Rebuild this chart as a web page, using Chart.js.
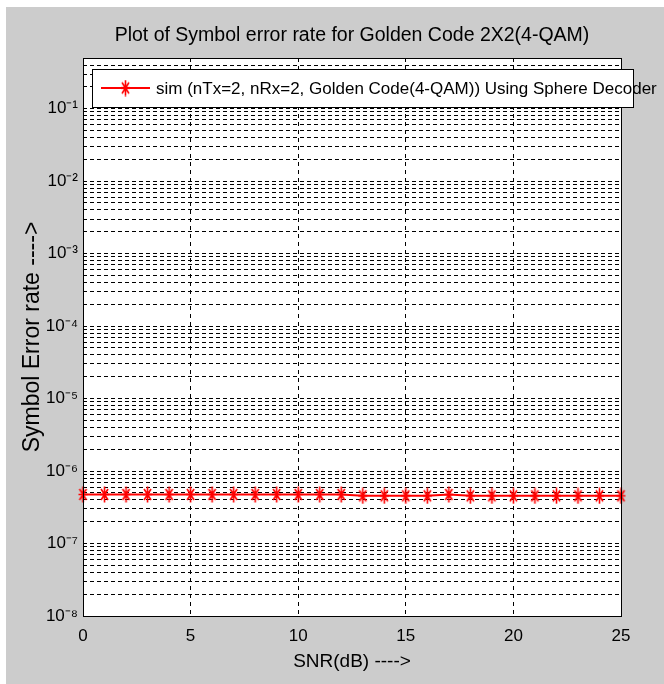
<!DOCTYPE html>
<html>
<head>
<meta charset="utf-8">
<script src="https://cdn.jsdelivr.net/npm/chart.js@4.4.1/dist/chart.umd.min.js"></script>
<style>
  html, body { margin: 0; padding: 0; background: #ffffff; }
  canvas { display: block; }
</style>
</head>
<body>
<canvas id="c" width="664" height="684"></canvas>
<script>
// ---------- data ----------
const snrDb = [0,1,2,3,4,5,6,7,8,9,10,11,12,13,14,15,16,17,18,19,20,21,22,23,24,25];
const serGolden = [4.75e-7,4.75e-7,4.75e-7,4.75e-7,4.75e-7,4.75e-7,4.75e-7,4.75e-7,4.75e-7,4.75e-7,
                   4.75e-7,4.75e-7,4.75e-7,4.55e-7,4.55e-7,4.55e-7,4.55e-7,4.75e-7,4.55e-7,4.55e-7,
                   4.55e-7,4.55e-7,4.55e-7,4.55e-7,4.55e-7,4.55e-7];
const xTickValues = [0,5,10,15,20,25];
const xTickLabels = ['0','5','10','15','20','25'];
const yDecadeValues = [1e-8,1e-7,1e-6,1e-5,1e-4,1e-3,1e-2,1e-1];
const yDecadeLabels = ['10⁻⁸','10⁻⁷','10⁻⁶','10⁻⁵','10⁻⁴','10⁻³','10⁻²','10⁻¹'];
const yMin = 1e-8, yMax = 0.5;
const titleText = 'Plot of Symbol error rate for Golden Code 2X2(4-QAM)';
const xAxisText = 'SNR(dB) ---->';
const yAxisText = 'Symbol Error rate ---->';
const seriesLabel = 'sim (nTx=2, nRx=2, Golden Code(4-QAM)) Using Sphere Decoder';

const FONT = "'Liberation Sans', Arial, Helvetica, sans-serif";
const RED = '#ff0000';
const FIG_BG = '#cccccc';

// asterisk marker
function makeStar() {
  const c = document.createElement('canvas');
  c.width = 11; c.height = 17;
  const g = c.getContext('2d');
  g.strokeStyle = RED; g.lineWidth = 1.6; g.lineCap = 'butt';
  g.beginPath();
  g.moveTo(5.5, 0.5); g.lineTo(5.5, 16.5);
  g.moveTo(1, 8.5); g.lineTo(10, 8.5);
  g.moveTo(2, 3); g.lineTo(9, 14);
  g.moveTo(9, 3); g.lineTo(2, 14);
  g.stroke();
  return c;
}
const starImg = makeStar();

// grid values for the log axis (1..9 x each decade)
function logGridValues() {
  const out = [];
  for (let e = -8; e <= -1; e++) {
    for (let m = 1; m <= 9; m++) out.push(m * Math.pow(10, e));
  }
  for (let m = 1; m <= 5; m++) out.push(m * 0.1);
  return out.filter((v, i, a) => a.indexOf(v) === i && v >= yMin && v <= yMax * 1.0000001);
}

const figurePlugin = {
  id: 'figure',
  beforeDraw(chart) {
    const ctx = chart.ctx;
    ctx.save();
    ctx.fillStyle = '#ffffff';
    ctx.fillRect(0, 0, chart.width, chart.height);
    ctx.fillStyle = FIG_BG;
    ctx.fillRect(6, 7, chart.width - 6, chart.height - 7);
    const a = chart.chartArea;
    ctx.fillStyle = '#ffffff';
    ctx.fillRect(a.left, a.top, a.right - a.left, a.bottom - a.top);
    ctx.restore();
  },
  afterDatasetsDraw(chart) {
    const ctx = chart.ctx;
    const a = chart.chartArea;
    ctx.save();
    ctx.strokeStyle = '#000000';
    ctx.lineWidth = 1;
    ctx.setLineDash([]);
    ctx.strokeRect(Math.round(a.left) + 0.5, Math.round(a.top) + 0.5,
                   Math.round(a.right - a.left), Math.round(a.bottom - a.top));
    ctx.restore();
  },
  afterDraw(chart) {
    // legend box (MATLAB style, overlapping the axes)
    const ctx = chart.ctx;
    const ds = chart.data.datasets[0];
    const bx = 92, by = 69, bw = 541, bh = 38;
    ctx.save();
    ctx.fillStyle = '#ffffff';
    ctx.fillRect(bx, by, bw, bh);
    ctx.strokeStyle = '#000000';
    ctx.lineWidth = 1;
    ctx.strokeRect(bx + 0.5, by + 0.5, bw, bh);
    const cy = by + bh / 2;
    ctx.strokeStyle = ds.borderColor;
    ctx.lineWidth = ds.borderWidth;
    ctx.beginPath();
    ctx.moveTo(101, cy); ctx.lineTo(150, cy);
    ctx.stroke();
    ctx.drawImage(starImg, 125.5 - starImg.width / 2, cy - starImg.height / 2);
    ctx.fillStyle = '#000000';
    ctx.font = '17px ' + FONT;
    ctx.textBaseline = 'middle';
    ctx.textAlign = 'left';
    ctx.fillText(ds.label, 156, cy + 1);
    ctx.restore();
  }
};

const chart = new Chart(document.getElementById('c'), {
  type: 'line',
  data: {
    datasets: [{
      label: seriesLabel,
      data: snrDb.map((x, i) => ({ x: x, y: serGolden[i] })),
      borderColor: RED,
      backgroundColor: RED,
      borderWidth: 2,
      pointStyle: starImg,
      pointRadius: 6,
      tension: 0,
      fill: false,
      clip: false
    }]
  },
  options: {
    responsive: false,
    animation: false,
    devicePixelRatio: 1,
    events: [],
    layout: { padding: { left: 0, right: 43, top: 0, bottom: 0 } },
    plugins: {
      legend: { display: false },
      tooltip: { enabled: false },
      title: {
        display: true,
        fullSize: false,
        text: titleText,
        color: '#000000',
        font: { family: FONT, size: 19.5, weight: 'normal', lineHeight: 1.2 },
        padding: { top: 24.3, bottom: 10.3 }
      }
    },
    scales: {
      x: {
        type: 'linear',
        min: 0, max: 25,
        afterBuildTicks(scale) { scale.ticks = xTickValues.map(v => ({ value: v })); },
        afterFit(scale) { scale.height = 68; },
        ticks: {
          autoSkip: false,
          maxRotation: 0,
          padding: 10,
          color: '#000000',
          font: { family: FONT, size: 17 },
          callback(v) { const i = xTickValues.indexOf(v); return i >= 0 ? xTickLabels[i] : ''; }
        },
        grid: { color: '#000000', lineWidth: 1, drawTicks: false },
        border: { display: false, dash: [4, 4] },
        title: {
          display: true,
          text: xAxisText,
          color: '#000000',
          font: { family: FONT, size: 19, lineHeight: 1.2 },
          padding: { top: 0, bottom: 10.6 }
        }
      },
      y: {
        type: 'logarithmic',
        min: yMin, max: yMax,
        afterBuildTicks(scale) { scale.ticks = logGridValues().map(v => ({ value: v })); },
        afterFit(scale) { scale.width = 83; },
        ticks: {
          autoSkip: false,
          padding: 5,
          color: '#000000',
          font: { family: FONT, size: 17 },
          callback(v) {
            for (let i = 0; i < yDecadeValues.length; i++) {
              if (Math.abs(Math.log10(v) - Math.log10(yDecadeValues[i])) < 1e-6) return yDecadeLabels[i];
            }
            return '';
          }
        },
        grid: { color: '#000000', lineWidth: 1, drawTicks: false },
        border: { display: false, dash: [4, 3] },
        title: {
          display: true,
          text: yAxisText,
          color: '#000000',
          font: { family: FONT, size: 23, lineHeight: 1.2 },
          padding: { top: 19.2, bottom: 0 }
        }
      }
    }
  },
  plugins: [figurePlugin]
});
</script>
</body>
</html>
